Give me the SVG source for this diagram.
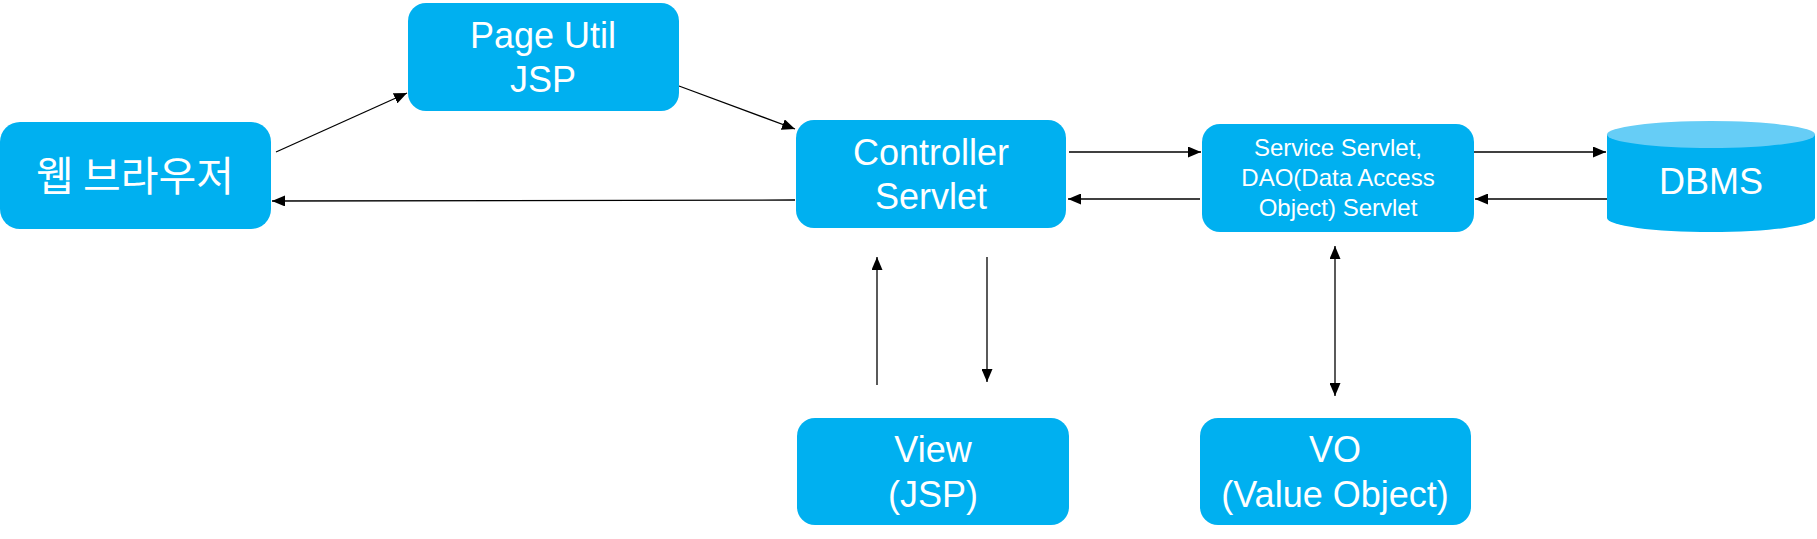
<svg xmlns="http://www.w3.org/2000/svg" width="1817" height="539" viewBox="0 0 1817 539">
  <defs>
    <style>
      .box { fill: #00B0F0; }
      .lbl { fill: #FFFFFF; font-family: "Liberation Sans", Arial, sans-serif; font-size: 36px; text-anchor: middle; }
      .sm { font-size: 24px; }
      .kr { font-family: "Noto Sans CJK KR", "Liberation Sans", sans-serif; font-size: 41px; }
      .edge { stroke: #000000; stroke-width: 1.3; fill: none; marker-end: url(#arr); }
      .both { marker-start: url(#arr); }
    </style>
    <marker id="arr" markerUnits="userSpaceOnUse" markerWidth="13" markerHeight="11" refX="13" refY="5.5" orient="auto-start-reverse" viewBox="0 0 13 11">
      <path d="M0,0 L13,5.5 L0,11 Z" fill="#000000"/>
    </marker>
  </defs>
  <rect width="1817" height="539" fill="#FFFFFF"/>

  <g id="connectors">
    <line class="edge" x1="276" y1="152" x2="407" y2="93"/>
    <line class="edge" x1="679" y1="86" x2="795" y2="129"/>
    <line class="edge" x1="795" y1="200" x2="272" y2="201"/>
    <line class="edge" x1="1069" y1="152" x2="1201" y2="152"/>
    <line class="edge" x1="1200" y1="199" x2="1068" y2="199"/>
    <line class="edge" x1="1474" y1="152" x2="1606" y2="152"/>
    <line class="edge" x1="1607" y1="199" x2="1475" y2="199"/>
    <line class="edge" x1="877" y1="385" x2="877" y2="257"/>
    <line class="edge" x1="987" y1="257" x2="987" y2="382"/>
    <line class="edge both" x1="1335" y1="246" x2="1335" y2="396"/>
  </g>

  <g id="browser">
    <rect class="box" x="0" y="122" width="271" height="107" rx="20" ry="20"/>
    <text class="lbl kr" x="135" y="191">웹 브라우저</text>
  </g>

  <g id="pageutil">
    <rect class="box" x="408" y="3" width="271" height="108" rx="18" ry="18"/>
    <text class="lbl" x="543" y="48">Page Util</text>
    <text class="lbl" x="543" y="92">JSP</text>
  </g>

  <g id="controller">
    <rect class="box" x="796" y="120" width="270" height="108" rx="18" ry="18"/>
    <text class="lbl" x="931" y="165">Controller</text>
    <text class="lbl" x="931" y="209">Servlet</text>
  </g>

  <g id="service">
    <rect class="box" x="1202" y="124" width="272" height="108" rx="18" ry="18"/>
    <text class="lbl sm" x="1338" y="156">Service Servlet,</text>
    <text class="lbl sm" x="1338" y="186">DAO(Data Access</text>
    <text class="lbl sm" x="1338" y="216">Object) Servlet</text>
  </g>

  <g id="dbms">
    <path class="box" d="M1607,134.5 L1607,218 A104,14 0 0 0 1815,218 L1815,134.5 Z"/>
    <ellipse cx="1711" cy="134.5" rx="104" ry="13.5" fill="#66CDF6"/>
    <text class="lbl" x="1711" y="194">DBMS</text>
  </g>

  <g id="view">
    <rect class="box" x="797" y="418" width="272" height="107" rx="18" ry="18"/>
    <text class="lbl" x="933" y="462">View</text>
    <text class="lbl" x="933" y="507">(JSP)</text>
  </g>

  <g id="vo">
    <rect class="box" x="1200" y="418" width="271" height="107" rx="18" ry="18"/>
    <text class="lbl" x="1335" y="462">VO</text>
    <text class="lbl" x="1335" y="507">(Value Object)</text>
  </g>
</svg>
